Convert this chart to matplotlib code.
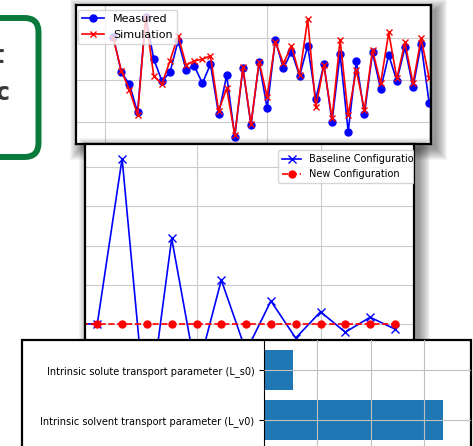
import numpy as np
import matplotlib
matplotlib.use('Agg')
import matplotlib.pyplot as plt
from matplotlib.patches import Rectangle, FancyBboxPatch
from matplotlib.transforms import Affine2D

# --- data ---
# top panel: measured vs simulation, 40 samples
sample_idx = np.arange(1, 41)
measured = [30.4, 21.8, 19.0, 12.2, 35.2, 25.0, 19.8, 21.8, 29.4, 22.4,
            23.4, 19.2, 23.8, 11.8, 21.1, 6.4, 22.8, 9.2, 24.2, 13.2,
            29.6, 22.8, 26.8, 21.0, 28.2, 15.4, 23.8, 10.0, 26.2, 7.6,
            24.6, 11.8, 26.6, 17.8, 26.0, 19.8, 27.8, 18.2, 28.6, 14.4]
simulation = [30.0, 22.2, 17.6, 11.6, 35.0, 21.0, 19.0, 24.6, 30.6, 23.6,
              24.6, 25.0, 25.8, 12.6, 18.0, 6.8, 23.0, 9.4, 24.4, 16.0,
              29.2, 24.0, 28.2, 21.2, 34.6, 13.4, 23.6, 10.8, 29.6, 11.6,
              22.4, 12.8, 27.2, 19.2, 31.4, 20.4, 29.0, 19.2, 30.0, 20.4]

# middle panel: baseline vs new configuration
step_idx = np.arange(0, 14)
baseline = [0, 0, 4.22, -2.6, 2.18, -1.3, 1.12, -0.7, 0.585, -0.36,
            0.31, -0.21, 0.17, -0.13]
new_config = [0] * 14

# bottom panel: parameter importance
param_names = ['Intrinsic solute transport parameter (L_s0)',
               'Intrinsic solvent transport parameter (L_v0)']
param_values = [0.0544, 0.336]

W, H = 473, 446
fig = plt.figure(figsize=(W / 100, H / 100), dpi=100)
# pixel coords (origin top-left) -> figure
px = Affine2D().scale(1 / W, -1 / H).translate(0, 1) + fig.transFigure


def ax_at(x0, y0, x1, y1, z):
    a = fig.add_axes([x0 / W, 1 - y1 / H, (x1 - x0) / W, (y1 - y0) / H])
    a.set_zorder(z)
    return a


def shadow(x0, y0, x1, y1, z, dx=5, dy=5, n=12):
    # soft drop shadow from stacked translucent rects
    for i in range(n):
        r = Rectangle((x0 + dx - i, y0 + dy - i), (x1 - x0) + 2 * i, (y1 - y0) + 2 * i,
                      transform=px, facecolor='black', edgecolor='none',
                      alpha=0.04, zorder=z)
        fig.patches.append(r)


gridc = '#cbcbcb'

# green box on the left
box = FancyBboxPatch((-60, 18), 98.5, 139, boxstyle='round,pad=0,rounding_size=14',
                     transform=px, facecolor='white', edgecolor='#0a7a3c',
                     linewidth=4.3, zorder=1)
fig.patches.append(box)
fig.text(4, 63, 't', transform=px, ha='right', va='baseline', fontsize=17,
         fontweight='bold', color='#3a3a3a', zorder=1.5)
fig.text(10, 100, 'c', transform=px, ha='right', va='baseline', fontsize=17,
         fontweight='bold', color='#3a3a3a', zorder=1.5)

# top panel
shadow(76, 5, 431, 144, 2)
ax1 = ax_at(76, 5, 431, 144, 3)
ax1.plot(sample_idx, measured, 'b-o', markersize=5, linewidth=1.2, label='Measured')
ax1.plot(sample_idx, simulation, 'r-x', markersize=5, linewidth=1.2, label='Simulation')
ax1.set_xlim(-3.6, 40.22)
ax1.set_ylim(4.64, 38)
ax1.set_xticks([0, 20, 40])
ax1.set_yticks([10, 20, 30])
ax1.grid(True, color=gridc, linewidth=0.8)
ax1.tick_params(length=0, labelbottom=False, labelleft=False)
for s in ax1.spines.values():
    s.set_linewidth(1.6)
    s.set_color('black')
ax1.legend(loc='upper left', bbox_to_anchor=(0.005, 0.965), borderaxespad=0, fontsize=8)

# middle panel
shadow(85, 144, 414, 360, 4)
ax2 = ax_at(85, 144, 414, 360, 5)
ax2.plot(step_idx, baseline, 'b-x', markersize=6, linewidth=1.2, label='Baseline Configuration')
ax2.plot(step_idx, new_config, 'r--o', markersize=5, linewidth=1.2, label='New Configuration')
ax2.set_xlim(0.504, 13.77)
ax2.set_ylim(-0.92, 4.59)
ax2.set_xticks([5, 10])
ax2.set_yticks([0, 1, 2, 3, 4])
ax2.grid(True, color=gridc, linewidth=0.8)
ax2.tick_params(length=0, labelbottom=False, labelleft=False)
for s in ax2.spines.values():
    s.set_linewidth(1.6)
    s.set_color('black')
leg2 = ax2.legend(loc='upper right', bbox_to_anchor=(1.03, 0.97), borderaxespad=0, fontsize=7)
for a in leg2.findobj():
    a.set_clip_box(ax2.bbox)
    a.set_clip_on(True)

# bottom panel
frame = Rectangle((21.7, 339.5), 449.5, 200, transform=px, facecolor='white',
                  edgecolor='black', linewidth=1.6, zorder=7)
fig.patches.append(frame)
ax3 = ax_at(264, 339.5, 471, 470, 8)
ax3.patch.set_alpha(0)
ypos = np.arange(len(param_names))
ax3.barh(ypos, param_values, height=0.8, color='#1f77b4')
ax3.set_yticks(ypos)
ax3.set_yticklabels(param_names, fontsize=7)
ax3.set_xticks([0.1, 0.2, 0.3])
ax3.set_xlim(0, 0.388)
ax3.set_ylim(2.0, -0.61)
ax3.set_axisbelow(False)
ax3.grid(True, color='#c0c0c0', linewidth=0.8)
ax3.tick_params(axis='x', length=0, labelbottom=False)
ax3.tick_params(axis='y', length=3.5, width=0.8)
for k in ['top', 'right', 'bottom']:
    ax3.spines[k].set_visible(False)
ax3.spines['left'].set_linewidth(0.8)

fig.savefig('out.png', dpi=100)
